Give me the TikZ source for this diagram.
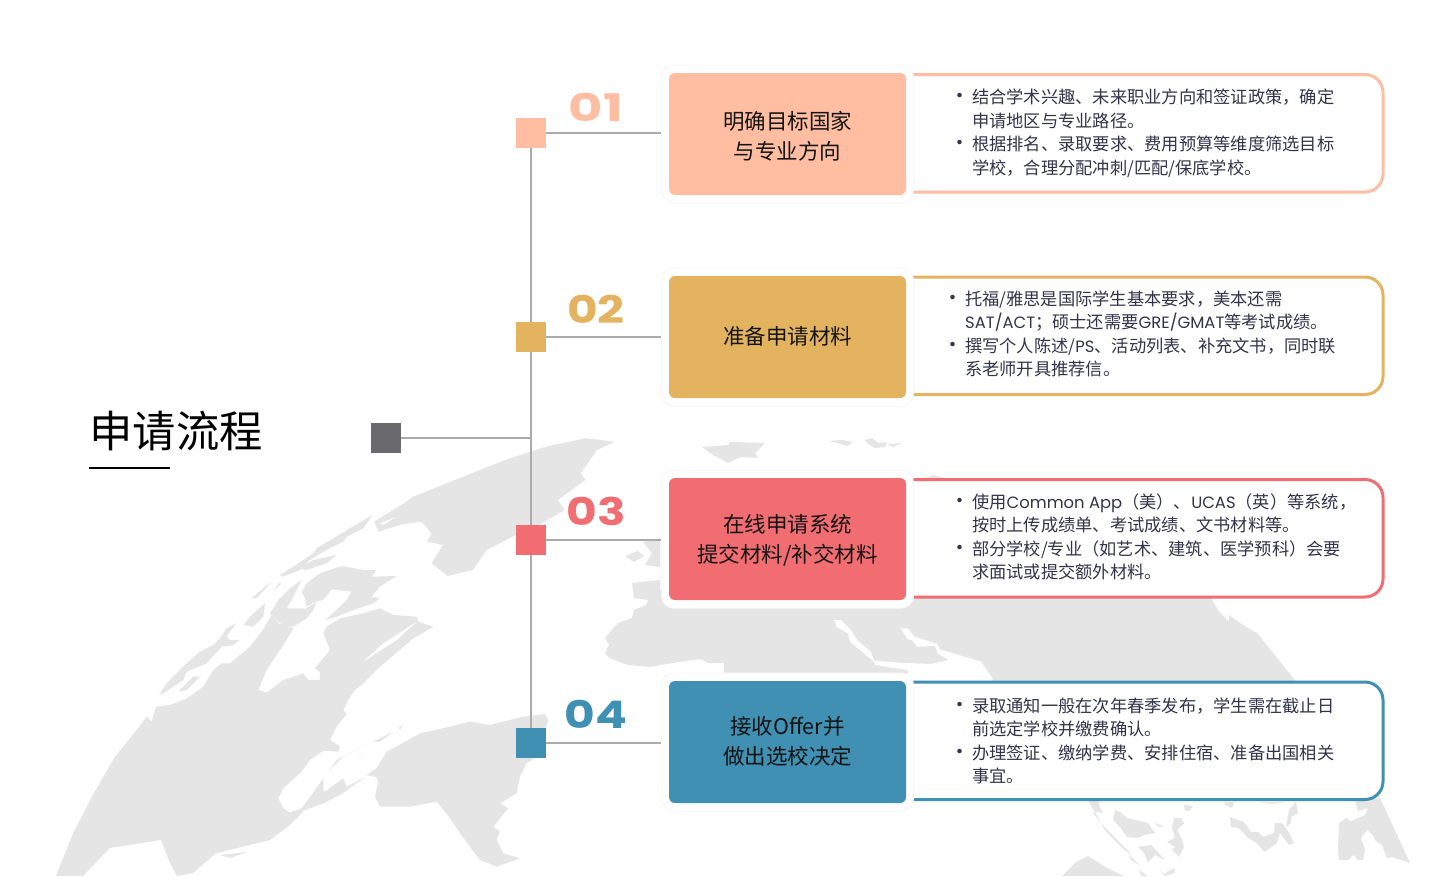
\documentclass[tikz,border=0pt]{standalone}
\usepackage{fontspec}
\setmainfont{Noto Sans CJK SC}
\newfontfamily\numfont[FakeStretch=1.24]{Poppins}
\newfontfamily\latfont{Poppins}
\definecolor{cA}{HTML}{FFBDA1}
\definecolor{cB}{HTML}{E3B35F}
\definecolor{cC}{HTML}{F26D72}
\definecolor{cD}{HTML}{3F90B2}
\definecolor{cGrey}{HTML}{6A6A6C}
\definecolor{land}{HTML}{E5E5E5}
\definecolor{wire}{HTML}{ABABAB}
\definecolor{body}{HTML}{33334A}
\tikzset{
  landfill/.style={fill=land,draw=none},
  seafill/.style={fill=white,draw=none},
  wireline/.style={draw=wire,line width=2pt},
  sqbox/.style={rectangle,minimum size=30pt,inner sep=0pt,fill=#1},
  halobox/.style={rectangle,rounded corners=12pt,minimum width=252pt,minimum height=138pt,fill=white,draw=black!3,line width=1pt,inner sep=0pt},
  cardbox/.style={rectangle,rounded corners=6pt,minimum width=237pt,minimum height=122pt,fill=#1,inner sep=0pt,align=center,text=black!92,font=\fontsize{21.5}{30}\selectfont},
  numlabel/.style={text=#1,font=\fontsize{38}{38}\bfseries\numfont,inner sep=0pt},
  detailtext/.style={anchor=west,inner sep=0pt,align=left,text=body,font=\fontsize{17.25}{23.5}\selectfont},
  panel/.style={draw=#1,line width=3pt,fill=white,rounded corners=18pt},
}
\newcommand{\bul}{\leavevmode\llap{\fontsize{21}{21}\selectfont •\hspace{1.5pt}}}
\newcommand{\lat}[1]{{\latfont\fontsize{16.4}{23.5}\selectfont #1}}
\newcommand{\dn}[2]{\raisebox{-#1}[\height][\depth]{#2}}
\begin{document}
\begin{tikzpicture}[x=1pt,y=-1pt]
\useasboundingbox (0,0) rectangle (1440,876);
\fill[white] (0,0) rectangle (1440,876);
% ---------- map: Greenland, in crop coordinates
\begin{scope}[shift={(0,400)},xscale=.4591,yscale=.3333]
\fill[landfill] (1275,115)--(1340,125)--(1300,150)--(1280,190)--(1265,220)--(1275,240)--(1245,270)--(1215,300)--(1230,330)--(1180,370)--(1130,400)--(1060,450)--(1030,510)--(975,528)--(940,490)--(965,435)--(930,425)--(940,400)--(918,365)--(870,375)--(825,395)--(815,365)--(880,310)--(900,290)--(1000,235)--(1100,180)--(1190,140)--cycle;
\end{scope}
% ---------- map: North America
\begin{scope}[shift={(150,500)},scale=.3333]
\fill[seafill] (690,70)--(735,52)--(700,75)--cycle;
\fill[landfill] (668,45)--(640,85)--(590,110)--(580,125)--(530,150)--(480,180)--(450,210)--(400,230)--(390,225)--(430,200)--(490,160)--(500,145)--(600,85)--cycle;
\fill[landfill] (560,165)--(530,190)--(470,210)--(445,205)--(490,180)--cycle;
\fill[landfill] (365,245)--(320,295)--(305,295)--(340,265)--cycle;
\fill[landfill] (395,250)--(370,275)--(385,250)--cycle;
\fill[landfill] (575,198)--(640,210)--(680,210)--(665,230)--(740,228)--(690,260)--(665,290)--(690,295)--(670,310)--(610,330)--(560,350)--(525,360)--(560,330)--(590,300)--(605,275)--(545,268)--(520,300)--(495,305)--(470,320)--(465,295)--(455,275)--(470,250)--(510,220)--cycle;
\fill[landfill] (455,240)--(430,290)--(410,325)--(440,325)--(470,325)--(500,305)--(490,330)--(470,355)--(430,380)--(400,375)--(385,365)--(360,340)--(385,300)--(420,265)--cycle;
\fill[landfill] (345,310)--(300,350)--(280,375)--(310,380)--(340,350)--cycle;
\fill[landfill] (258,370)--(230,385)--(210,415)--(190,435)--(150,455)--(110,490)--(80,520)--(50,550)--(28,585)--(40,580)--(100,540)--(110,515)--(170,490)--(215,440)--(250,435)--(270,420)--(240,420)--(230,410)--cycle;
\fill[landfill] (85,575)--(130,530)--(150,530)--(110,570)--cycle;
\fill[landfill] (-282,1128)--(-231,1000)--(-174,890)--(-105,770)--(-36,685)--(-10,650)--(5,665)--(18,620)--(60,615)--(108,597)--(160,560)--(190,510)--(215,490)--(240,490)--(300,440)--(335,395)--(365,345)--(385,370)--(410,375)--(430,385)--(425,395)--(390,450)--(350,510)--(325,570)--(350,578)--(400,540)--(460,520)--(475,540)--(510,540)--(510,515)--(495,505)--(540,450)--(520,400)--(530,380)--(570,355)--(640,340)--(690,325)--(730,345)--(800,350)--(805,365)--(850,380)--(825,395)--(790,415)--(760,440)--(690,500)--(640,550)--(615,570)--(595,600)--(580,630)--(590,642)--(560,680)--(540,720)--(570,740)--(565,755)--(520,752)--(480,780)--(455,815)--(400,865)--(385,895)--(400,925)--(420,938)--(455,925)--(485,885)--(520,835)--(520,870)--(525,875)--(580,835)--(590,860)--(645,832)--(575,882)--(520,910)--(465,930)--(420,975)--(360,1020)--(198,1060)--(129,1119)--(81,1128)--(60,1089)--(33,1020)--(-120,1044)--(-201,1128)--cycle;
\fill[seafill] (800,365)--(740,420)--(640,485)--(700,430)--cycle;
\fill[landfill] (680,832)--(685,845)--(675,890)--(690,920)--(780,920)--(860,905)--(900,955)--(930,1000)--(960,1040)--(990,1080)--(1040,1100)--(1110,1075)--(1060,1060)--(1040,1020)--(1050,995)--(1030,980)--(1050,955)--(1075,925)--(1050,910)--(1100,880)--(1110,830)--(1130,790)--(1160,770)--(1195,660)--(1185,642)--(1120,650)--(1020,675)--(960,665)--(900,680)--(810,700)--(730,745)--(710,755)--(680,805)--(650,825)--cycle;
\fill[landfill] (540,810)--(580,770)--(655,730)--(560,780)--cycle;
\fill[landfill] (625,775)--(640,765)--(630,773)--cycle;
\fill[landfill] (670,725)--(730,695)--(690,725)--cycle;
\fill[landfill] (745,685)--(760,675)--(750,688)--cycle;
\fill[landfill] (210,1065)--(294,1056)--(240,1074)--cycle;
\end{scope}
% ---------- map: right part
\fill[landfill] (632,583)--(660,580)--(660,590)--(1211,590)--(1211,598)--(1218,610)--(1229,622)--(1229,615)--(1243,625)--(1257,633)--(1298,684)--(724,684)--(724,663)--(708,663)--(701,659)--(678,662)--(650,667)--(628,665)--(609,658)--(605,653)--(609,645)--(605,638)--(618,623)--(632,618)--(634,610)--(646,605)--(648,600)--(634,598)--cycle;
\begin{scope}[shift={(600,590)},xscale=.4591,yscale=.3333]
\fill[seafill] (510,90)--(525,90)--(545,118)--(560,150)--(590,185)--(598,215)--(570,185)--(545,155)--(540,130)--(515,110)--cycle;
\fill[seafill] (655,115)--(670,115)--(685,140)--(735,162)--(740,178)--(830,215)--(855,265)--(855,285)--(670,285)--(670,240)--(600,225)--(595,212)--(650,218)--(720,222)--(760,210)--(735,190)--(730,168)--(690,170)--(680,150)--(670,148)--cycle;
\end{scope}
\fill[landfill] (643,542)--(660,538)--(660,567)--(645,565)--(652,553)--cycle;
\fill[landfill] (625,556)--(638,551)--(644,556)--(634,562)--cycle;
\fill[landfill] (925,478)--(933,475)--(945,478)--cycle;
\fill[landfill] (702,447)--(728,445)--(730,442)--(765,443)--(755,453)--(758,458)--(740,457)--(728,463)--(713,455)--cycle;
\fill[landfill] (828,441)--(842,440)--(853,442)--(847,446)--(838,443)--cycle;
\fill[landfill] (865,440)--(872,438)--(878,443)--(887,442)--(885,447)--(875,448)--(867,443)--cycle;
\fill[landfill] (887,444)--(902,443)--(893,447)--cycle;
\fill[landfill] (1088,800)--(1098,800)--(1100,808)--(1103,813)--(1096,812)--(1093,813)--(1100,822)--(1120,843)--(1129,852)--(1131,855)--(1122,848)--(1105,830)--cycle;
\fill[landfill] (1115,810)--(1120,812)--(1127,818)--(1148,823)--(1155,833)--(1144,835)--(1138,838)--(1127,837)--(1120,827)--(1113,820)--cycle;
\fill[landfill] (1138,847)--(1151,845)--(1165,860)--(1155,855)--(1148,862)--(1144,853)--cycle;
\fill[landfill] (1174,818)--(1181,818)--(1184,823)--(1177,830)--(1182,840)--(1184,847)--(1179,857)--(1172,850)--(1175,847)--(1167,842)--(1175,838)--(1172,827)--cycle;
\fill[landfill] (1184,805)--(1193,806)--(1189,811)--(1185,810)--cycle;
\fill[landfill] (1155,823)--(1165,827)--(1157,826)--cycle;
\fill[landfill] (1062,876)--(1076,862)--(1088,856)--(1107,868)--(1124,876)--cycle;
\fill[landfill] (1129,855)--(1141,866)--(1131,860)--cycle;
\fill[landfill] (1139,870)--(1148,876)--(1141,876)--cycle;
\fill[landfill] (1160,870)--(1163,875)--(1167,872)--(1174,868)--(1175,873)--(1165,876)--cycle;
\fill[landfill] (1224,802)--(1234,802)--(1232,808)--(1225,805)--cycle;
\fill[landfill] (1230,817)--(1244,822)--(1251,832)--(1258,832)--(1263,837)--(1274,833)--(1275,823)--(1282,823)--(1289,833)--(1294,843)--(1289,845)--(1280,833)--(1277,843)--(1265,852)--(1255,842)--(1248,838)--(1239,828)--(1231,827)--cycle;
\fill[landfill] (1286,827)--(1289,810)--(1296,802)--(1298,813)--(1291,817)--(1291,823)--cycle;
\fill[landfill] (1258,802)--(1286,802)--(1272,804)--cycle;
\fill[landfill] (1355,800)--(1380,798)--(1410,863)--(1392,857)--(1387,858)--(1382,845)--(1375,840)--(1373,835)--(1367,830)--(1361,838)--(1365,850)--(1363,860)--(1358,860)--(1353,855)--(1348,860)--(1339,860)--(1338,850)--(1339,823)--(1346,818)--(1351,821)--(1365,815)--(1368,808)--(1358,811)--cycle;
% ---------- panels
\path[panel=cA] (913,74.5)--(1383,74.5)--(1383,192)--(913,192);
\path[panel=cB] (913,277)--(1383,277)--(1383,394.5)--(913,394.5);
\path[panel=cC] (913,479.5)--(1383,479.5)--(1383,597)--(913,597);
\path[panel=cD] (913,682)--(1383,682)--(1383,799.5)--(913,799.5);
% ---------- squares and halos
\node[sqbox=cA] (s1) at (531,133) {};
\node[sqbox=cB] (s2) at (531,337) {};
\node[sqbox=cC] (s3) at (531,540) {};
\node[sqbox=cD] (s4) at (531,743) {};
\node[rectangle,minimum width=30pt,minimum height=30pt,inner sep=0pt,fill=cGrey] (s0) at (386,438) {};
\coordinate (j0) at (531,438);
\node[halobox] (h1) at (787.5,134) {};
\node[halobox] (h2) at (787.5,337) {};
\node[halobox] (h3) at (787.5,539) {};
\node[halobox] (h4) at (787.5,742) {};
\draw[wireline] (s1) -- (s4);
\draw[wireline] (s0) -- (j0);
\draw[wireline] (s1) -- (s1 -| h1.west);
\draw[wireline] (s2) -- (s2 -| h2.west);
\draw[wireline] (s3) -- (s3 -| h3.west);
\draw[wireline] (s4) -- (s4 -| h4.west);
\node[sqbox=cA] at (s1) {};
\node[sqbox=cB] at (s2) {};
\node[sqbox=cC] at (s3) {};
\node[sqbox=cD] at (s4) {};
% ---------- cards
\node[cardbox=cA] (c1) at (787.5,134) {\dn{2pt}{明确目标国家}\\\dn{2pt}{与专业方向}};
\node[cardbox=cB] (c2) at (787.5,337) {\dn{-1pt}{准备申请材料}};
\node[cardbox=cC] (c3) at (787.5,539) {\dn{1.5pt}{在线申请系统}\\\dn{1.5pt}{提交材料/补交材料}};
\node[cardbox=cD] (c4) at (787.5,742) {\dn{-1pt}{接收Offer并}\\\dn{-1pt}{做出选校决定}};
% ---------- numbers
\node[numlabel=cA,xscale=1.12] (n1) at (596,107) {01};
\node[numlabel=cB] (n2) at (596,309) {02};
\node[numlabel=cC] (n3) at (596,511) {03};
\node[numlabel=cD] (n4) at (596,714) {04};
% ---------- details
\node[detailtext] (d1) at (972,133) {\bul 结合学术兴趣、未来职业方向和签证政策，确定\\申请地区与专业路径。\\\bul 根据排名、录取要求、费用预算等维度筛选目标\\学校，合理分配冲刺/匹配/保底学校。};
\node[detailtext] (d2) at (965,334) {\bul 托福/雅思是国际学生基本要求，美本还需\\\lat{SAT/ACT}；硕士还需要\lat{GRE/GMAT}等考试成绩。\\\bul 撰写个人陈述/\lat{PS}、活动列表、补充文书，同时联\\系老师开具推荐信。};
\node[detailtext] (d3) at (972,537) {\bul 使用\lat{Common App}（美）、\lat{UCAS}（英）等系统，\\按时上传成绩单、考试成绩、文书材料等。\\\bul 部分学校/专业（如艺术、建筑、医学预科）会要\\求面试或提交额外材料。};
\node[detailtext] (d4) at (972,741) {\bul 录取通知一般在次年春季发布，学生需在截止日\\前选定学校并缴费确认。\\\bul 办理签证、缴纳学费、安排住宿、准备出国相关\\事宜。};
% ---------- title
\node[inner sep=0pt,text=black,font=\fontsize{43.3}{43.3}\selectfont] (t) at (176,431) {申请流程};
\coordinate (u1) at (89,468);
\coordinate (u2) at (170,468);
\draw[black,line width=1.5pt] (u1) -- (u2);
\end{tikzpicture}
\end{document}
